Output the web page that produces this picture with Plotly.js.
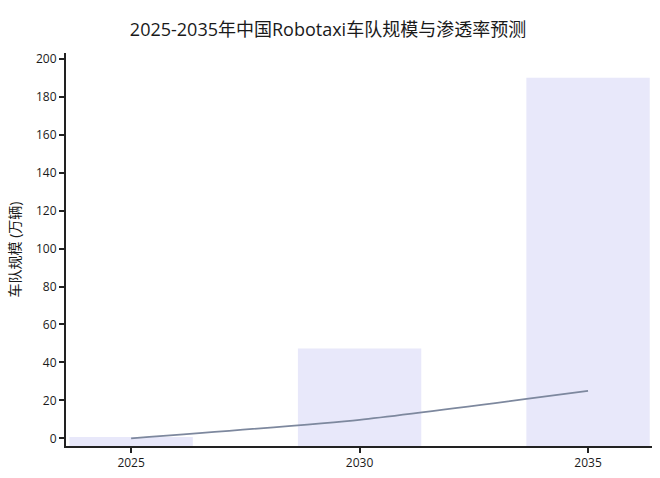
<!DOCTYPE html>
<html>
<head>
<meta charset="utf-8">
<script src="https://cdn.plot.ly/plotly-3.0.1.min.js"></script>
<style>
  html, body { margin: 0; padding: 0; background: #fff; }
  #chart { width: 660px; height: 478px; }
</style>
</head>
<body>
<div id="chart"></div>
<script>
// data
const years = ["2025", "2030", "2035"];
const fleetSize = [0.7, 47.4, 190];     // 万辆
const penetration = [0, 9.8, 25];       // 渗透率, drawn on the same axis
const yTicks = [0, 20, 40, 60, 80, 100, 120, 140, 160, 180, 200];

const Y_RANGE = [-4, 203];
const FONT = "'Open Sans', 'Noto Sans CJK SC', sans-serif";

// bars are filled down to the bottom of the axis
let bars = {
    name: "车队规模",
    x: years,
    y: fleetSize.map((v) => v - Y_RANGE[0]),
    base: Y_RANGE[0],
    type: "bar",
    width: 0.54,
    marker: { color: "#e8e8fa" },
    hoverinfo: "skip",
};

let line = {
    name: "渗透率",
    x: years,
    y: penetration,
    type: "scatter",
    mode: "lines",
    line: { color: "#7d889e", width: 1.8, shape: "spline", smoothing: 0.5 },
};

let layout = {
    width: 660,
    height: 478,
    margin: { l: 66, r: 8, t: 53, b: 32 },
    paper_bgcolor: "#fff",
    plot_bgcolor: "#fff",
    showlegend: false,
    font: { family: FONT, size: 12, color: "#1a1a1a" },
    title: {
        text: "2025-2035年中国Robotaxi车队规模与渗透率预测",
        font: { family: FONT, size: 18, color: "#1a1a1a" },
        x: 0.497,
        xanchor: "center",
        y: 0.938,
        yanchor: "middle",
    },
    xaxis: {
        type: "category",
        range: [-0.285, 2.28],
        showline: true,
        linecolor: "#222",
        linewidth: 2,
        ticks: "outside",
        ticklen: 5,
        tickwidth: 2,
        tickcolor: "#222",
        showgrid: false,
        zeroline: false,
        tickfont: { size: 12 },
    },
    yaxis: {
        range: Y_RANGE,
        tickvals: yTicks,
        showline: true,
        linecolor: "#222",
        linewidth: 2,
        ticks: "outside",
        ticklen: 5,
        tickwidth: 2,
        tickcolor: "#222",
        showgrid: false,
        zeroline: false,
        tickfont: { size: 12 },
        title: { text: "车队规模 (万辆)", font: { size: 14 }, standoff: 12 },
    },
};

Plotly.newPlot("chart", [bars, line], layout, { displayModeBar: false });
</script>
</body>
</html>
